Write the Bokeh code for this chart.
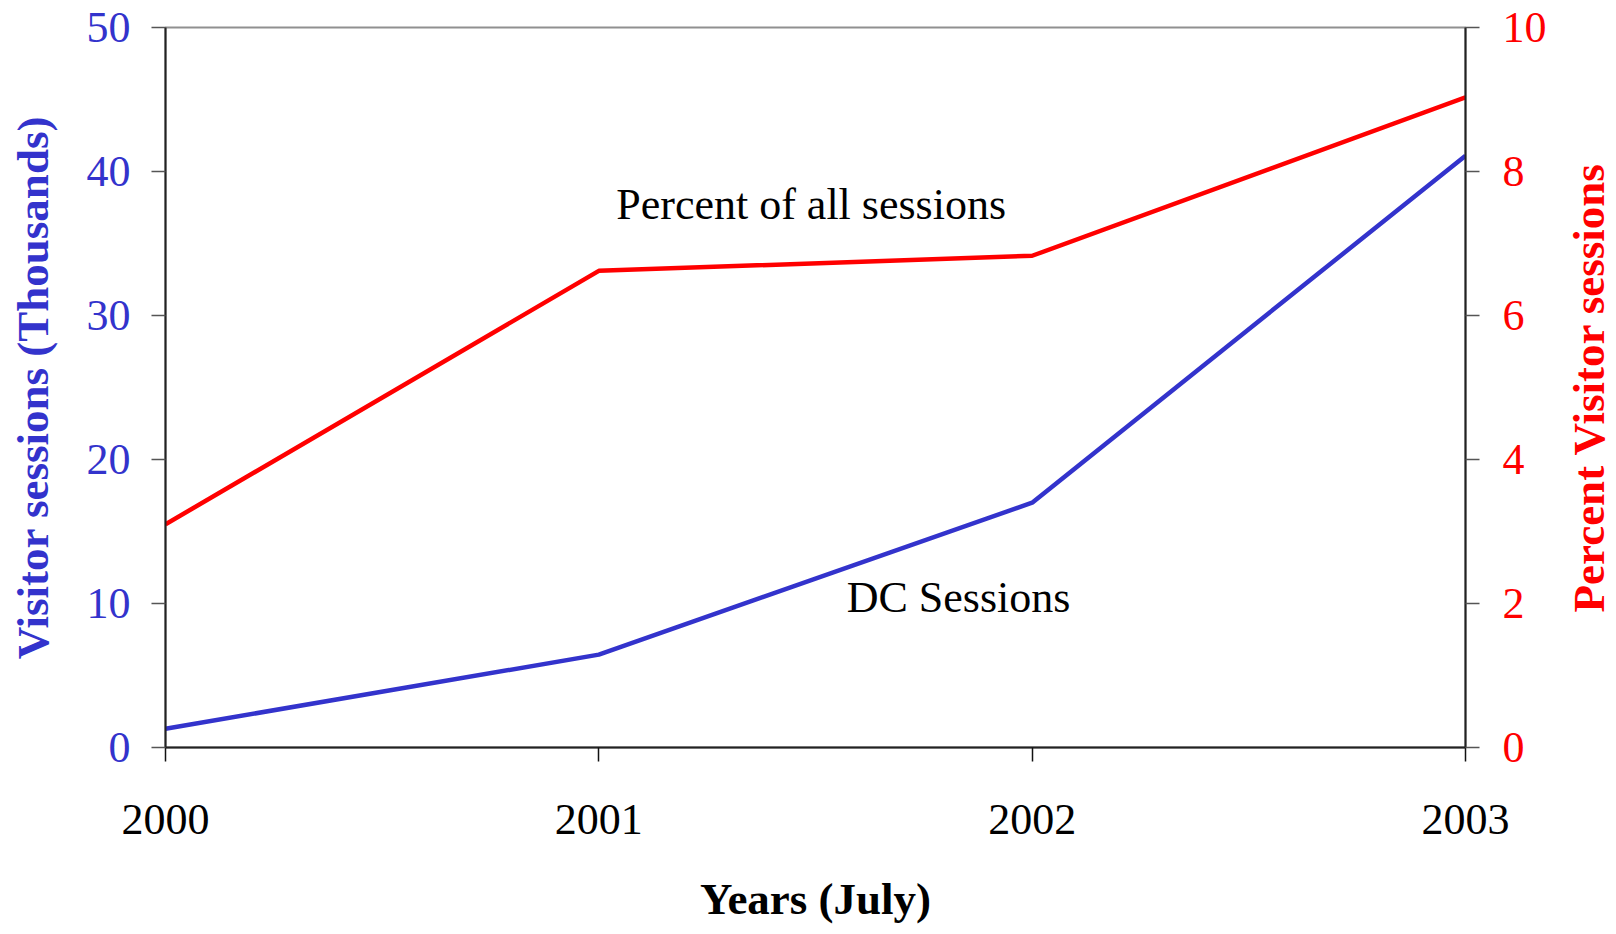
import math
from bokeh.plotting import figure
from bokeh.models import LinearAxis, Range1d, Label, FixedTicker
from bokeh.layouts import row
from bokeh.embed import file_html
from bokeh.resources import INLINE

# ---- data ----
years = [2000, 2001, 2002, 2003]
dc_sessions = [1.3, 6.45, 17.0, 41.1]          # thousands (left axis)
percent_sessions = [3.1, 6.62, 6.83, 9.03]     # percent (right axis)
left_ticks = [0, 10, 20, 30, 40, 50]
right_ticks = [0, 2, 4, 6, 8, 10]
left_title = "Visitor sessions (Thousands)"
right_title = "Percent Visitor sessions"
x_title = "Years (July)"
pct_note = "Percent of all sessions"
dc_note = "DC Sessions"

BLUE = "#3333cc"
RED = "#ff0000"
FONT = "Liberation Serif"
FS = "44px"
TFS = "45px"

H = 934
W1, W2 = 1560, 56
TOP, BOTTOM = 27, H - 747
p = figure(width=W1, height=H,
           x_range=Range1d(2000, 2003), y_range=Range1d(0, 50),
           output_backend="svg", toolbar_location=None,
           min_border_left=165, min_border_right=W1 - 1465,
           min_border_top=TOP, min_border_bottom=BOTTOM)
p.extra_y_ranges = {"pct": Range1d(0, 10)}
p.grid.visible = False
p.outline_line_color = "#909090"
p.outline_line_width = 2
p.background_fill_color = "white"
p.border_fill_color = "white"

def style_axis(ax, color, tick_color="#555555"):
    ax.axis_line_color = "#222222"
    ax.axis_line_width = 2
    ax.major_tick_line_color = tick_color
    ax.major_tick_line_width = 1.5
    ax.major_tick_out = 14
    ax.major_tick_in = 0
    ax.minor_tick_line_color = None
    ax.major_label_text_font = FONT
    ax.major_label_text_font_size = FS
    ax.major_label_text_color = color
    ax.axis_label_text_font = FONT
    ax.axis_label_text_font_size = TFS
    ax.axis_label_text_font_style = "bold"
    ax.axis_label_text_color = color

# x axis
xa = p.xaxis[0]
style_axis(xa, "black", tick_color="#111111")
xa.ticker = FixedTicker(ticks=years)
xa.major_label_overrides = {y: str(y) for y in years}
xa.major_label_standoff = 43
xa.axis_label = x_title
xa.axis_label_standoff = 37

# left axis
ya = p.yaxis[0]
style_axis(ya, BLUE)
ya.ticker = FixedTicker(ticks=left_ticks)
ya.major_label_standoff = 21
ya.axis_label = left_title
ya.axis_label_standoff = 26

# right axis (ticks and numbers)
ra = LinearAxis(y_range_name="pct", ticker=FixedTicker(ticks=right_ticks))
style_axis(ra, RED)
ra.major_label_standoff = 23
p.add_layout(ra, "right")

# lines
p.line(years, dc_sessions, line_color=BLUE, line_width=4.5)
p.line(years, percent_sessions, line_color=RED, line_width=4.5, y_range_name="pct")

# annotations
p.add_layout(Label(x=2001.49, y=37.7, text=pct_note, text_align="center",
                   text_baseline="alphabetic", text_font=FONT,
                   text_font_size=FS, text_color="black"))
p.add_layout(Label(x=2001.83, y=10.45, text=dc_note, text_align="center",
                   text_baseline="alphabetic", text_font=FONT,
                   text_font_size=FS, text_color="black"))

# narrow companion panel carrying the right-hand axis title (reads bottom to top)
p2 = figure(width=W2, height=H, x_range=Range1d(0, 1), y_range=Range1d(0, 10),
            output_backend="svg", toolbar_location=None,
            min_border_left=53, min_border_right=0,
            min_border_top=TOP, min_border_bottom=BOTTOM)
p2.xaxis.visible = False
p2.grid.visible = False
p2.outline_line_color = None
p2.background_fill_color = "white"
p2.border_fill_color = "white"
ta = p2.yaxis[0]
ta.ticker = FixedTicker(ticks=[])
ta.major_tick_out = 0
ta.major_tick_in = 0
ta.minor_tick_line_color = None
ta.axis_line_color = None
ta.major_label_text_font_size = "0px"
ta.major_label_standoff = 0
ta.axis_label = right_title
ta.axis_label_standoff = 0
ta.axis_label_text_font = FONT
ta.axis_label_text_font_size = TFS
ta.axis_label_text_font_style = "bold"
ta.axis_label_text_color = RED

layout = row(p, p2, spacing=0)
open("out.html", "w").write(file_html(layout, INLINE))
